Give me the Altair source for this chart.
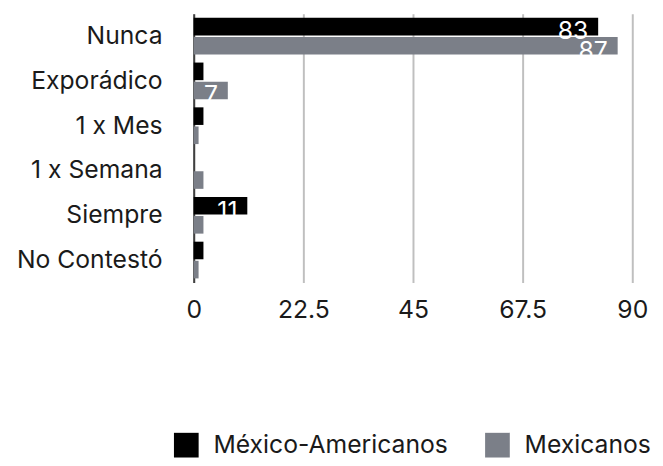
import altair as alt
import pandas as pd

categories = ["Nunca", "Exporádico", "1 x Mes", "1 x Semana", "Siempre", "No Contestó"]
series = ["México-Americanos", "Mexicanos"]
mexico_americanos = [83, 2, 2, 0, 11, 2]
mexicanos = [87, 7, 1, 2, 2, 1]
x_ticks = [0, 22.5, 45, 67.5, 90]
colors = ["#000000", "#7b7f88"]

rows = []
for c, a, b in zip(categories, mexico_americanos, mexicanos):
    rows.append({"cat": c, "serie": series[0], "valor": a})
    rows.append({"cat": c, "serie": series[1], "valor": b})
df = pd.DataFrame(rows)

font = "Inter"
fs = 25

y = alt.Y(
    "cat:N", sort=categories,
    scale=alt.Scale(paddingInner=0.18, paddingOuter=0.09),
    axis=alt.Axis(title=None, labelFontSize=fs, labelColor="#1a1a1a", labelFont=font,
                  ticks=False, labelPadding=32, domainColor="#404040", domainWidth=2,
                  grid=False, labelLimit=300),
)
yoff = alt.YOffset("serie:N", sort=series, scale=alt.Scale(paddingInner=0.08))
x = alt.X(
    "valor:Q",
    scale=alt.Scale(domain=[0, 90], nice=False),
    axis=alt.Axis(values=x_ticks, title=None, labelFontSize=fs, labelColor="#1a1a1a",
                  labelFont=font, domain=False, ticks=False, gridColor="#bfbfbf",
                  gridWidth=2, labelPadding=16, format=".1~f", labelFlush=False),
)

bars = alt.Chart(df).mark_bar().encode(
    y=y, yOffset=yoff, x=x,
    color=alt.Color(
        "serie:N", sort=series,
        scale=alt.Scale(domain=series, range=colors),
        legend=alt.Legend(orient="none", legendX=-20, legendY=424, direction="horizontal",
                          title=None, symbolType="square", symbolSize=625,
                          symbolStrokeWidth=0, labelFontSize=fs, labelFont=font,
                          labelColor="#1a1a1a", columnPadding=37, labelOffset=15,
                          padding=0, labelLimit=400),
    ),
)

labels = alt.Chart(df).mark_text(
    color="white", fontSize=25, align="right", dx=-10, baseline="middle", dy=5, font=font
).encode(y=y, yOffset=yoff, x=x, text="valor:Q")

chart = (bars + labels).properties(
    width=444, height=272,
    autosize=alt.AutoSizeParams(type="none"),
    padding={"left": 188, "top": 3, "right": 23, "bottom": 182},
).configure_view(stroke=None)

chart.save("out.html", embed_options={"renderer": "svg", "actions": False})
